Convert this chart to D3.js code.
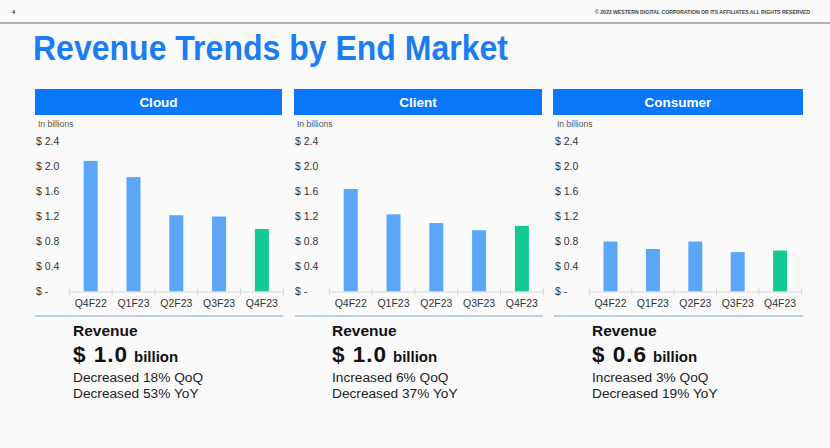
<!DOCTYPE html>
<html><head><meta charset="utf-8">
<script src="https://cdn.jsdelivr.net/npm/d3@7"></script>
<style>
html,body{margin:0;padding:0;background:#fafafa;}
svg{display:block;font-family:"Liberation Sans",Arial,sans-serif;}
</style></head>
<body>
<svg id="c" width="830" height="448"></svg>
<script>
const quarters = ["Q4F22","Q1F23","Q2F23","Q3F23","Q4F23"];
const segments = ["Cloud","Client","Consumer"];
const cloudValues = [2.09, 1.83, 1.22, 1.20, 1.00];
const clientValues = [1.64, 1.235, 1.095, 0.98, 1.05];
const consumerValues = [0.80, 0.68, 0.80, 0.63, 0.655];
const yTicks = [0, 0.4, 0.8, 1.2, 1.6, 2.0, 2.4];
const revenueLabels = ["$ 1.0", "$ 1.0", "$ 0.6"];
const qoqLines = ["Decreased 18% QoQ", "Increased 6% QoQ", "Increased 3% QoQ"];
const yoyLines = ["Decreased 53% YoY", "Decreased 37% YoY", "Decreased 19% YoY"];
const seriesValues = [cloudValues, clientValues, consumerValues];

const svg = d3.select("#c");
const W = 830, H = 448;
svg.append("rect").attr("width", W).attr("height", H).attr("fill", "#fafafa");

// header strip
svg.append("text").attr("x", 12).attr("y", 14).attr("font-size", 5.5).attr("font-weight", "bold").attr("fill", "#333").text("4");
svg.append("text").attr("x", 810).attr("y", 14).attr("text-anchor", "end").attr("font-size", 5.2)
  .attr("font-weight", "bold").attr("fill", "#444").attr("textLength", 215).attr("lengthAdjust", "spacingAndGlyphs")
  .text("© 2023 WESTERN DIGITAL CORPORATION OR ITS AFFILIATES  ALL RIGHTS RESERVED");
svg.append("line").attr("x1", 0).attr("x2", W).attr("y1", 23).attr("y2", 23).attr("stroke", "#666").attr("stroke-width", 1.2);

// title
svg.append("text").attr("x", 33).attr("y", 60).attr("font-size", 34.5).attr("font-weight", "bold")
  .attr("fill", "#1a7df2").attr("textLength", 475).attr("lengthAdjust", "spacingAndGlyphs")
  .text("Revenue Trends by End Market");

const panels = [
  {hx0: 35, hx1: 282, ax0: 69.3, ax1: 283.3, lab: 36, lx0: 35, lx1: 283, tx: 73},
  {hx0: 294, hx1: 542, ax0: 329.3, ax1: 543.3, lab: 295, lx0: 295, lx1: 543, tx: 332},
  {hx0: 553, hx1: 803, ax0: 589.3, ax1: 801.3, lab: 555, lx0: 554, lx1: 803, tx: 592}
];

const y = d3.scaleLinear().domain([0, 2.4]).range([291.5, 141.5]);

panels.forEach((p, i) => {
  const g = svg.append("g");
  g.append("rect").attr("x", p.hx0).attr("y", 89).attr("width", p.hx1 - p.hx0).attr("height", 26).attr("fill", "#0a78fa");
  g.append("text").attr("x", (p.hx0 + p.hx1) / 2).attr("y", 107).attr("text-anchor", "middle")
    .attr("font-size", 13.5).attr("font-weight", "bold").attr("fill", "#fff").text(segments[i]);
  g.append("text").attr("x", p.lab + 2).attr("y", 126.5).attr("font-size", 8.5).attr("fill", "#555").text("In billions");

  const x = d3.scaleBand().domain(quarters).range([p.ax0, p.ax1]).paddingInner(0).paddingOuter(0);

  // y tick labels
  g.selectAll(".yl").data(yTicks).join("text")
    .attr("x", p.lab).attr("y", d => y(d)).attr("dy", "0.35em")
    .attr("font-size", 10.5).attr("fill", "#333")
    .text(d => d === 0 ? "$ -" : "$ " + d.toFixed(1));

  // bars
  g.selectAll(".bar").data(quarters).join("rect")
    .attr("x", d => x(d) + x.bandwidth() / 2 - 7)
    .attr("width", 14)
    .attr("y", (d, j) => y(seriesValues[i][j]))
    .attr("height", (d, j) => y(0) - y(seriesValues[i][j]))
    .attr("fill", (d, j) => j === quarters.length - 1 ? "#14c993" : "#5ca6f8");

  // x axis
  const axis = d3.axisBottom(x).tickSize(0).tickPadding(0);
  const ag = g.append("g").attr("transform", `translate(0,${y(0)})`).call(axis);
  ag.select(".domain").attr("stroke", "#d9d9d9");
  ag.selectAll("text").attr("font-size", 10.5).attr("fill", "#333").attr("font-family", "Liberation Sans, Arial, sans-serif")
    .attr("dy", null).attr("y", 15);
  const bounds = quarters.map(q => x(q)).concat([p.ax1]);
  g.selectAll(".tk").data(bounds).join("line")
    .attr("x1", d => d).attr("x2", d => d).attr("y1", 288).attr("y2", 295).attr("stroke", "#d9d9d9");

  // separator line
  g.append("line").attr("x1", p.lx0).attr("x2", p.lx1).attr("y1", 316).attr("y2", 316).attr("stroke", "#7aa3c4").attr("stroke-width", 1.2);

  // summary text
  g.append("text").attr("x", p.tx).attr("y", 336).attr("font-size", 15.5).attr("font-weight", "bold").attr("fill", "#111").text("Revenue");
  g.append("text").attr("x", p.tx).attr("y", 362).attr("fill", "#111").attr("font-weight", "bold")
    .attr("font-size", 22.5).attr("textLength", 54).attr("lengthAdjust", "spacing").text(revenueLabels[i]);
  g.append("text").attr("x", p.tx + 61).attr("y", 362).attr("fill", "#111").attr("font-weight", "bold")
    .attr("font-size", 15).text("billion");
  g.append("text").attr("x", p.tx).attr("y", 381.5).attr("font-size", 13.7).attr("fill", "#222").text(qoqLines[i]);
  g.append("text").attr("x", p.tx).attr("y", 397.5).attr("font-size", 13.7).attr("fill", "#222").text(yoyLines[i]);
});
</script>
</body></html>
